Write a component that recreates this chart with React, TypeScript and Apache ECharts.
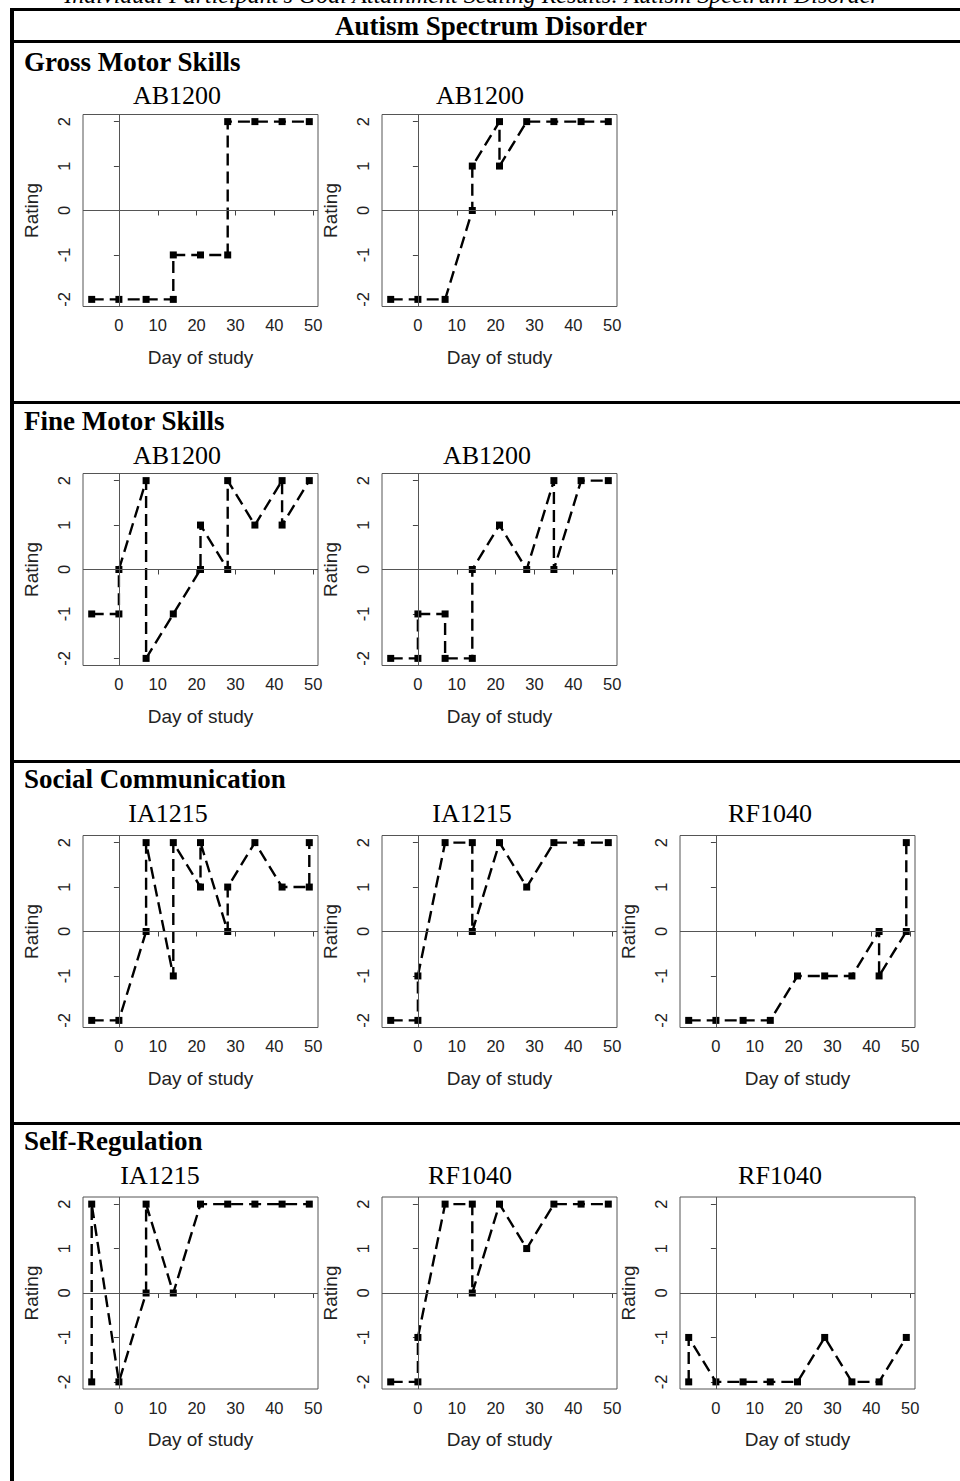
import React, { useEffect, useRef } from "react";
import * as echarts from "echarts";

// ---- data ----
const X_TICKS = [0, 10, 20, 30, 40, 50];
const Y_TICKS = [-2, -1, 0, 1, 2];
const PAGE_TITLE = "Individual Participant's Goal Attainment Scaling Results: Autism Spectrum Disorder";
const TABLE_HEADER = "Autism Spectrum Disorder";
const SECTIONS = ["Gross Motor Skills", "Fine Motor Skills", "Social Communication", "Self-Regulation"];

const gross1: number[][] = [[-7, -2], [0, -2], [7, -2], [14, -2], [14, -1], [21, -1], [28, -1], [28, 2], [35, 2], [42, 2], [49, 2]];
const gross2: number[][] = [[-7, -2], [0, -2], [7, -2], [14, 0], [14, 1], [21, 2], [21, 1], [28, 2], [35, 2], [42, 2], [49, 2]];
const fine1: number[][] = [[-7, -1], [0, -1], [0, 0], [7, 2], [7, -2], [14, -1], [21, 0], [21, 1], [28, 0], [28, 2], [35, 1], [42, 2], [42, 1], [49, 2]];
const fine2: number[][] = [[-7, -2], [0, -2], [0, -1], [7, -1], [7, -2], [14, -2], [14, 0], [21, 1], [28, 0], [35, 2], [35, 0], [42, 2], [49, 2]];
const social1: number[][] = [[-7, -2], [0, -2], [7, 0], [7, 2], [14, -1], [14, 2], [21, 1], [21, 2], [28, 0], [28, 1], [35, 2], [42, 1], [49, 1], [49, 2]];
const social2: number[][] = [[-7, -2], [0, -2], [0, -1], [7, 2], [14, 2], [14, 0], [21, 2], [28, 1], [35, 2], [42, 2], [49, 2]];
const social3: number[][] = [[-7, -2], [0, -2], [7, -2], [14, -2], [21, -1], [28, -1], [35, -1], [42, 0], [42, -1], [49, 0], [49, 2]];
const selfReg1: number[][] = [[-7, -2], [-7, 2], [0, -2], [7, 0], [7, 2], [14, 0], [21, 2], [28, 2], [35, 2], [42, 2], [49, 2]];
const selfReg2: number[][] = [[-7, -2], [0, -2], [0, -1], [7, 2], [14, 2], [14, 0], [21, 2], [28, 1], [35, 2], [42, 2], [49, 2]];
const selfReg3: number[][] = [[-7, -2], [-7, -1], [0, -2], [7, -2], [14, -2], [21, -2], [28, -1], [35, -2], [42, -2], [49, -1]];

const PANEL_TITLES = ["AB1200", "AB1200", "AB1200", "AB1200", "IA1215", "IA1215", "RF1040", "IA1215", "RF1040", "RF1040"];
const PANEL_DATA = [gross1, gross2, fine1, fine2, social1, social2, social3, selfReg1, selfReg2, selfReg3];

// ---- layout ----
const PANEL_POS = [
  { row: 0, col: 0, tx: 177 }, { row: 0, col: 1, tx: 480 },
  { row: 1, col: 0, tx: 177 }, { row: 1, col: 1, tx: 487 },
  { row: 2, col: 0, tx: 168 }, { row: 2, col: 1, tx: 472 }, { row: 2, col: 2, tx: 770 },
  { row: 3, col: 0, tx: 160 }, { row: 3, col: 1, tx: 470 }, { row: 3, col: 2, tx: 780 },
];
const COL_LEFT = [83, 382, 680];
const ROW_TOP = [114.5, 473.5, 835.5, 1197];
const GRID_W = 235;
const GRID_H = 192;
const TITLE_Y = [95, 455, 813, 1175];
const SECTION_Y = [62, 421, 779, 1141];
const SEPARATOR_Y = [40, 401, 760, 1122];

const SANS = "'Liberation Sans', Arial, sans-serif";
const SERIF = "'Liberation Serif', 'Times New Roman', serif";

export default function App() {
  const ref = useRef<HTMLDivElement>(null);
  useEffect(() => {
    if (!ref.current) return;
    const chart = echarts.init(ref.current, undefined, { renderer: "svg" });

    const grids = PANEL_POS.map((p) => ({
      left: COL_LEFT[p.col],
      top: ROW_TOP[p.row],
      width: GRID_W,
      height: GRID_H,
      show: true,
      borderColor: "#555",
      borderWidth: 1,
      backgroundColor: "transparent",
      containLabel: false,
    }));

    const xAxes = PANEL_POS.map((_, i) => ({
      gridIndex: i,
      type: "value",
      min: -9.24,
      max: 51.24,
      axisLine: { show: false },
      splitLine: { show: false },
      axisTick: { show: true, customValues: X_TICKS, length: 5, lineStyle: { color: "#444" } },
      axisLabel: { customValues: X_TICKS, margin: 10, fontSize: 16.5, color: "#222", fontFamily: SANS },
      name: "Day of study",
      nameLocation: "middle",
      nameGap: 41,
      nameTextStyle: { fontSize: 19, color: "#222", fontFamily: SANS },
    }));

    const yAxes = PANEL_POS.map((_, i) => ({
      gridIndex: i,
      type: "value",
      min: -2.16,
      max: 2.16,
      axisLine: { show: false },
      splitLine: { show: false },
      axisTick: { show: true, customValues: Y_TICKS, length: 5, lineStyle: { color: "#444" } },
      axisLabel: { customValues: Y_TICKS, rotate: 90, margin: 11, fontSize: 16.5, color: "#222", fontFamily: SANS },
      name: "Rating",
      nameLocation: "middle",
      nameGap: 42,
      nameTextStyle: { fontSize: 19, color: "#222", fontFamily: SANS },
    }));

    const series = PANEL_DATA.map((d, i) => ({
      type: "line",
      xAxisIndex: i,
      yAxisIndex: i,
      data: d,
      symbol: "rect",
      symbolSize: 7,
      showSymbol: true,
      itemStyle: { color: "#000" },
      lineStyle: { color: "#000", width: 2.4, type: [12, 6] },
      markLine: {
        silent: true,
        symbol: "none",
        label: { show: false },
        lineStyle: { color: "#555", width: 1, type: "solid" },
        data: [{ xAxis: 0 }, { yAxis: 0 }],
      },
    }));

    const graphics: any[] = [];
    // page title (cut off at the top, as in the reference)
    graphics.push({
      type: "text", x: 472, y: -5,
      style: { text: PAGE_TITLE, font: `italic 24px ${SERIF}`, fill: "#000", align: "center", verticalAlign: "middle" },
    });
    // table borders
    graphics.push({ type: "rect", shape: { x: 10, y: 8, width: 4, height: 1481 }, style: { fill: "#000" } });
    graphics.push({ type: "rect", shape: { x: 10, y: 8, width: 950, height: 3 }, style: { fill: "#000" } });
    SEPARATOR_Y.forEach((y) => {
      graphics.push({ type: "rect", shape: { x: 10, y, width: 950, height: 3 }, style: { fill: "#000" } });
    });
    graphics.push({
      type: "text", x: 491, y: 26,
      style: { text: TABLE_HEADER, font: `bold 27px ${SERIF}`, fill: "#000", align: "center", verticalAlign: "middle" },
    });
    SECTIONS.forEach((s, r) => {
      graphics.push({
        type: "text", x: 24, y: SECTION_Y[r],
        style: { text: s, font: `bold 27px ${SERIF}`, fill: "#000", align: "left", verticalAlign: "middle" },
      });
    });
    PANEL_POS.forEach((p, i) => {
      graphics.push({
        type: "text", x: p.tx, y: TITLE_Y[p.row],
        style: { text: PANEL_TITLES[i], font: `26px ${SERIF}`, fill: "#000", align: "center", verticalAlign: "middle" },
      });
    });

    chart.setOption({
      animation: false,
      backgroundColor: "#fff",
      grid: grids,
      xAxis: xAxes,
      yAxis: yAxes,
      series,
      graphic: { elements: graphics },
    });
    return () => chart.dispose();
  }, []);
  return <div ref={ref} style={{ position: "absolute", left: 0, top: 0, width: 960, height: 1481 }} />;
}
